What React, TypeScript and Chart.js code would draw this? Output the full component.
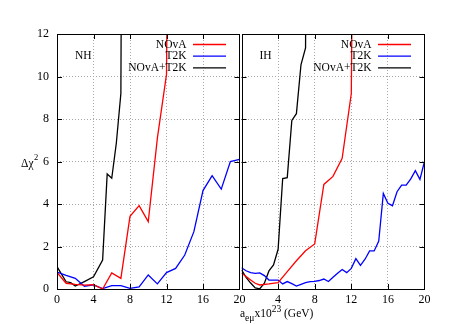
import React, { useEffect, useRef } from 'react';
import { Chart, registerables } from 'chart.js';
Chart.register(...registerables);

const W = 463;
const H = 324;
const FONT = "'Liberation Serif', 'Times New Roman', serif";

const xTickValues = [0, 4, 8, 12, 16, 20];
const yTickValues = [0, 2, 4, 6, 8, 10, 12];
const seriesLabels = ['NOvA', 'T2K', 'NOvA+T2K'];
const seriesColors = ['#ff0000', '#0000ff', '#000000'];
const panelLabels = ['NH', 'IH'];

// NH panel
const nhNovaX = [0, 1, 2, 3, 4, 5, 6, 7, 8, 9, 10, 11, 12, 13];
const nhNovaY = [0.78, 0.27, 0.22, 0.18, 0.2, 0.0, 0.76, 0.5, 3.42, 3.92, 3.17, 7.1, 10.1, 60];
const nhT2kX = [0, 1, 2, 3, 4, 5, 6, 7, 8, 9, 10, 11, 12, 13, 14, 15, 16, 17, 18, 19, 20];
const nhT2kY = [0.8, 0.64, 0.5, 0.13, 0.19, 0.02, 0.16, 0.16, 0.03, 0.1, 0.66, 0.24, 0.77, 0.97, 1.6, 2.7, 4.63, 5.33, 4.7, 6.0, 6.1];
const nhComboX = [0, 1, 1.5, 2, 3, 4, 5, 5.5, 6, 6.5, 7, 7.5];
const nhComboY = [1.05, 0.34, 0.3, 0.14, 0.35, 0.57, 1.36, 5.41, 5.21, 6.86, 9.2, 60];

// IH panel
const ihNovaX = [0, 1, 1.5, 2, 3, 4, 5, 6, 7, 8, 9, 10, 11, 12, 13];
const ihNovaY = [0.75, 0.42, 0.27, 0.19, 0.24, 0.3, 0.82, 1.33, 1.8, 2.12, 4.92, 5.3, 6.15, 9.2, 60];
const ihT2kX = [0, 0.5, 1, 1.5, 2, 2.5, 3, 3.5, 4, 4.5, 5, 5.5, 6, 6.5, 7, 7.5, 8, 8.5, 9, 9.5, 10, 10.5, 11, 11.5, 12, 12.5, 13, 13.5, 14, 14.5, 15, 15.5, 16, 16.5, 17, 17.5, 18, 18.5, 19, 19.5, 20];
const ihT2kY = [1.0, 0.86, 0.77, 0.74, 0.76, 0.63, 0.42, 0.42, 0.42, 0.24, 0.35, 0.25, 0.14, 0.22, 0.3, 0.35, 0.36, 0.4, 0.47, 0.35, 0.55, 0.74, 0.92, 0.77, 0.97, 1.43, 1.11, 1.4, 1.79, 1.79, 2.26, 4.5, 4.03, 3.92, 4.58, 4.89, 4.89, 5.18, 5.57, 5.16, 6.0];
const ihComboX = [0, 0.5, 1, 1.5, 2, 2.5, 3, 3.5, 4, 4.5, 5, 5.5, 6, 6.5, 7, 7.5];
const ihComboY = [0.9, 0.55, 0.28, 0.05, 0.01, 0.27, 0.85, 1.13, 1.87, 5.2, 5.24, 7.93, 8.25, 10.55, 11.35, 60];

const pts = (xs: number[], ys: number[]) => xs.map((x, i) => ({ x, y: ys[i] }));

const framePlugin = {
  id: 'frame',
  afterDatasetsDraw(chart: any, _args: any, opts: any) {
    const { ctx, chartArea } = chart;
    const { left, right, top, bottom } = chartArea;
    const xs = chart.scales.x;
    const ys = chart.scales.y;
    ctx.save();
    ctx.strokeStyle = '#000';
    ctx.lineWidth = 1;
    // inner ticks
    ctx.beginPath();
    xTickValues.forEach((v) => {
      if (v === xs.min || v === xs.max) return;
      const px = Math.round(xs.getPixelForValue(v)) + 0.5;
      ctx.moveTo(px, bottom);
      ctx.lineTo(px, bottom - 5);
      ctx.moveTo(px, top);
      ctx.lineTo(px, top + 5);
    });
    yTickValues.forEach((v) => {
      if (v === ys.min || v === ys.max) return;
      const py = Math.round(ys.getPixelForValue(v)) + 0.5;
      ctx.moveTo(left, py);
      ctx.lineTo(left + 5, py);
      ctx.moveTo(right, py);
      ctx.lineTo(right - 5, py);
    });
    ctx.stroke();
    ctx.strokeRect(Math.round(left) + 0.5, Math.round(top) + 0.5, Math.round(right - left) - 1, Math.round(bottom - top));

    // legend (gnuplot style)
    ctx.font = `11.5px ${FONT}`;
    ctx.textBaseline = 'middle';
    ctx.textAlign = 'right';
    chart.data.datasets.forEach((ds: any, i: number) => {
      const y = top + 10.5 + i * 11.7;
      ctx.fillStyle = '#000';
      ctx.fillText(ds.label, right - 53, y);
      ctx.strokeStyle = ds.borderColor;
      ctx.lineWidth = 1.3;
      ctx.beginPath();
      ctx.moveTo(right - 46.5, y);
      ctx.lineTo(right - 13.5, y);
      ctx.stroke();
    });

    // panel label
    ctx.fillStyle = '#000';
    ctx.textAlign = 'left';
    ctx.fillText(opts.label, left + 18, top + 22);

    if (opts.yTitle) {
      ctx.textBaseline = 'alphabetic';
      ctx.font = `11.5px ${FONT}`;
      const t = '\u0394\u03c7';
      ctx.fillText(t, 21, 167);
      const w = ctx.measureText(t).width;
      ctx.font = `8.5px ${FONT}`;
      ctx.fillText('2', 21 + w + 0.5, 160);
    }
    if (opts.xTitle) {
      ctx.textBaseline = 'alphabetic';
      let x = 240;
      const part = (s: string, size: number, base: number) => {
        ctx.font = `${size}px ${FONT}`;
        ctx.fillText(s, x, base);
        x += ctx.measureText(s).width;
      };
      part('a', 11.5, 317);
      part('e\u03bc', 9.5, 320.5);
      part('x10', 11.5, 317);
      part('23', 9.5, 311.5);
      part(' (GeV)', 11.5, 317);
    }
    ctx.restore();
  },
};

function panelConfig(panel: number): any {
  const isLeft = panel === 0;
  const data = isLeft
    ? [pts(nhNovaX, nhNovaY), pts(nhT2kX, nhT2kY), pts(nhComboX, nhComboY)]
    : [pts(ihNovaX, ihNovaY), pts(ihT2kX, ihT2kY), pts(ihComboX, ihComboY)];
  const gridColor = (edgeMin: number, edgeMax: number) => (c: any) =>
    c.tick && (c.tick.value === edgeMin || c.tick.value === edgeMax) ? 'rgba(0,0,0,0)' : '#a8a8a8';
  return {
    type: 'line',
    data: {
      datasets: data.map((d, i) => ({
        label: seriesLabels[i],
        data: d,
        borderColor: seriesColors[i],
        backgroundColor: seriesColors[i],
        borderWidth: 1.3,
        pointRadius: 0,
        tension: 0,
        fill: false,
      })),
    },
    options: {
      responsive: false,
      animation: false,
      events: [],
      layout: {
        padding: isLeft
          ? { left: 0, top: 34, right: W - 239.5, bottom: 0 }
          : { left: 241.5, top: 34, right: W - 424.5, bottom: 0 },
      },
      scales: {
        x: {
          type: 'linear',
          min: 0,
          max: 20,
          afterFit: (s: any) => { s.height = 35; },
          afterBuildTicks: (s: any) => { s.ticks = xTickValues.map((v) => ({ value: v })); },
          ticks: {
            padding: 4,
            maxRotation: 0,
            autoSkip: false,
            color: '#000',
            font: { family: FONT, size: 12 },
            callback: (v: any) => (!isLeft && v === 0 ? '' : String(v)),
          },
          grid: { color: gridColor(0, 20), drawTicks: false, lineWidth: 1 },
          border: { display: false, dash: [1, 2] },
        },
        y: {
          type: 'linear',
          min: 0,
          max: 12,
          afterFit: (s: any) => { s.width = isLeft ? 57 : 0; },
          afterBuildTicks: (s: any) => { s.ticks = yTickValues.map((v) => ({ value: v })); },
          ticks: {
            display: isLeft,
            padding: 8,
            color: '#000',
            font: { family: FONT, size: 12 },
          },
          grid: { color: gridColor(0, 12), drawTicks: false, lineWidth: 1 },
          border: { display: false, dash: [1, 2] },
        },
      },
      plugins: {
        legend: { display: false },
        tooltip: { enabled: false },
        frame: { label: panelLabels[panel], yTitle: isLeft, xTitle: !isLeft },
      },
    },
    plugins: [framePlugin],
  };
}

export default function App() {
  const r1 = useRef<HTMLCanvasElement>(null);
  const r2 = useRef<HTMLCanvasElement>(null);
  useEffect(() => {
    const c1 = new Chart(r1.current as HTMLCanvasElement, panelConfig(0));
    const c2 = new Chart(r2.current as HTMLCanvasElement, panelConfig(1));
    return () => {
      c1.destroy();
      c2.destroy();
    };
  }, []);
  return (
    <div style={{ position: 'absolute', left: 0, top: 0, width: W, height: H, background: '#fff' }}>
      <canvas ref={r1} width={W} height={H} style={{ position: 'absolute', left: 0, top: 0 }} />
      <canvas ref={r2} width={W} height={H} style={{ position: 'absolute', left: 0, top: 0 }} />
    </div>
  );
}
